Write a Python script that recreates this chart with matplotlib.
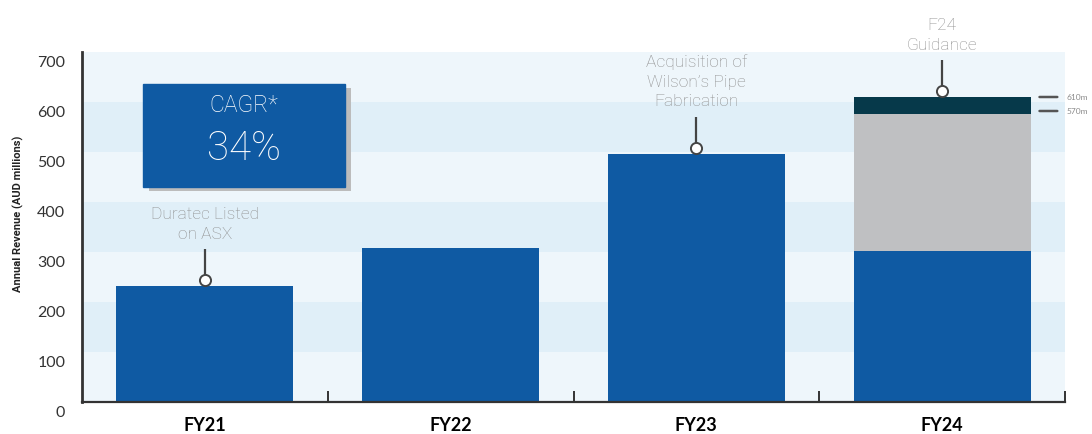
import matplotlib.pyplot as plt
import matplotlib.patheffects as pe
import matplotlib.transforms as mtransforms
from matplotlib.patches import Rectangle

plt.rcParams['font.family'] = ['Lato', 'DejaVu Sans']

years = ["FY21", "FY22", "FY23", "FY24"]
revenue = [232, 309, 497, 302]
guidance_low = 577
guidance_high = 610
guidance_labels = ["610m", "570m"]
notes = {0: "Duratec Listed\non ASX", 2: "Acquisition of\nWilson\u2019s Pipe\nFabrication", 3: "F24\nGuidance"}
yticks = [0, 100, 200, 300, 400, 500, 600, 700]

blue = "#0f5aa3"
grey = "#bfc0c2"
dark = "#06394a"
band_light = "#eef6fb"
band_dark = "#e0eff8"
ink = "#333333"
thin = ["Roboto", "DejaVu Sans"]

fig = plt.figure(figsize=(10.92, 4.34), dpi=100)
ax = fig.add_axes([82 / 1092, 32 / 434, (1065 - 82) / 1092, 350 / 434])
ax.set_xlim(-0.5, 3.5)
ax.set_ylim(0, 700)

# background bands
for i in range(7):
    ax.axhspan(i * 100, (i + 1) * 100, color=band_dark if i % 2 == 1 else band_light, zorder=0, lw=0)

x = range(len(years))
w = 0.72
ax.bar(x, revenue, width=w, color=blue, zorder=2)
ax.bar(3, guidance_low - revenue[3], bottom=revenue[3], width=w, color=grey, zorder=2)
ax.bar(3, guidance_high - guidance_low, bottom=guidance_low, width=w, color=dark, zorder=2)

# annotations with pin markers
tops = list(revenue)
tops[3] = guidance_high
for i, txt in notes.items():
    y0 = tops[i] + 12
    ax.plot([i, i], [y0, y0 + 62], color="#444444", lw=1.6, zorder=3, solid_capstyle="butt")
    ax.plot(i, y0, "o", ms=8, mfc="white", mec="#444444", mew=1.4, zorder=4)
    ax.text(i, y0 + 76, txt, ha="center", va="bottom", fontsize=12.5, color="#8e8e8e",
            family=thin, fontweight="light", linespacing=1.4, zorder=4, clip_on=False)

# guidance range markers
for v, lab in zip([guidance_high, guidance_high - 28], guidance_labels):
    ax.annotate("", xy=(3.385, v), xytext=(3.48, v), xycoords="data",
                arrowprops=dict(arrowstyle="-", color="#555555", lw=1.8), annotation_clip=False)
    ax.text(3.505, v, lab, fontsize=6, color="#8a8a8a", va="center", ha="left", clip_on=False)

# CAGR box
box = Rectangle((-0.25, 431), 0.82, 206, color=blue, zorder=5,
                path_effects=[pe.SimplePatchShadow(offset=(4, -3), shadow_rgbFace="#bcbcbc", alpha=1), pe.Normal()])
ax.add_patch(box)
ax.text(0.16, 593, "CAGR*", color="white", fontsize=16.5, family=thin, fontweight="light",
        ha="center", va="center", zorder=6)
ax.text(0.16, 507, "34%", color="white", fontsize=29, family=thin, fontweight="light",
        ha="center", va="center", zorder=6)

# axes styling
for s in ["top", "right"]:
    ax.spines[s].set_visible(False)
ax.spines["left"].set_color(ink)
ax.spines["left"].set_linewidth(2)
ax.spines["bottom"].set_color(ink)
ax.spines["bottom"].set_linewidth(1.6)
ax.spines["left"].set_zorder(3)
ax.spines["bottom"].set_zorder(3)

ax.set_yticks(yticks)
ax.set_yticklabels([str(t) for t in yticks])
ax.set_yticks([400, 500, 600, 700], minor=True)
ax.tick_params(axis="y", which="major", length=0, pad=12, labelsize=11.5, labelcolor=ink)
ax.tick_params(axis="y", which="minor", direction="in", length=18, width=2, color=ink)
shift = mtransforms.ScaledTranslation(0, -4 / 100, fig.dpi_scale_trans)
for lab in ax.get_yticklabels():
    lab.set_va("top")
    lab.set_transform(lab.get_transform() + shift)

ax.set_xticks(list(x))
ax.set_xticklabels(years, fontweight="bold", fontsize=13)
ax.set_xticks([0.5, 1.5, 2.5, 3.5], minor=True)
ax.tick_params(axis="x", which="major", length=0, pad=11)
ax.tick_params(axis="x", which="minor", direction="in", length=8, width=1.4, color=ink)

fig.text(18 / 1092, 1 - 214 / 434, "Annual Revenue (AUD millions)", rotation=90, ha="center", va="center",
         fontsize=8, fontweight="bold", color="#222222", family=["Roboto", "DejaVu Sans"])

fig.savefig("out.png", dpi=100)
